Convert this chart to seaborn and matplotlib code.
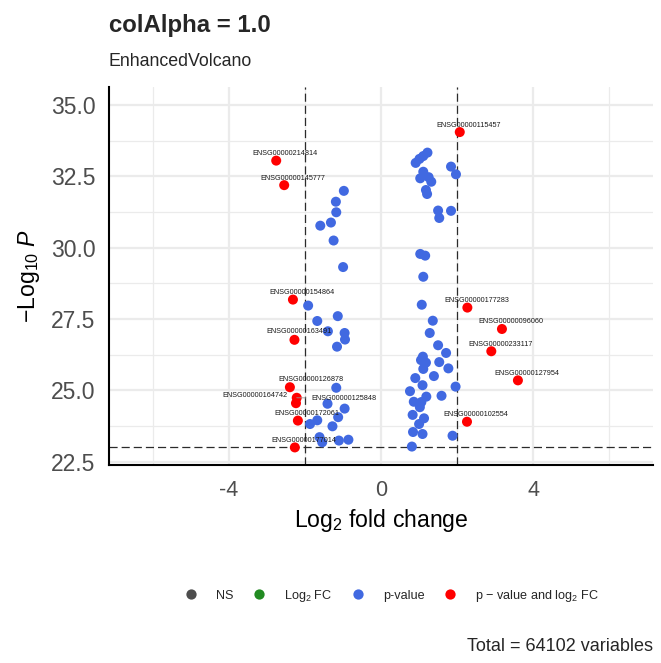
import numpy as np
import pandas as pd
import matplotlib
matplotlib.use("Agg")
import matplotlib.pyplot as plt
import seaborn as sns
from matplotlib.lines import Line2D
from matplotlib.ticker import FixedLocator

# ---------------- data ----------------
# significant by p-value and log2 FC (red, labelled)
red_fc = [-2.76, -2.55, 2.07, -2.32, -2.28, -2.40, -2.22, -2.24, -2.19, -2.27,
          2.27, 3.18, 2.90, 3.60, 2.26]
red_logp = [33.05, 32.19, 34.05, 28.18, 26.77, 25.11, 24.74, 24.55, 23.94, 23.00,
            27.90, 27.15, 26.37, 25.35, 23.90]
red_genes = ["ENSG00000214814", "ENSG00000145777", "ENSG00000115457",
             "ENSG00000154864", "ENSG00000163491", "ENSG00000126878",
             "ENSG00000125848", "ENSG00000164742", "ENSG00000172061",
             "ENSG00000177014", "ENSG00000177283", "ENSG00000096060",
             "ENSG00000233117", "ENSG00000127954", "ENSG00000102554"]

# significant by p-value only (blue)
blue_fc = [-0.98, -1.19, -1.18, -1.32, -1.60, -1.25, -1.00, -1.92, -1.68, -1.14,
           -1.40, -0.96, -0.95, -1.16, -1.18, -1.41, -0.96, -1.13, -1.68, -1.87,
           -1.28, -1.62, -1.55, -1.11, -0.86,
           1.22, 1.11, 1.01, 0.91, 1.84, 1.97, 1.11, 1.03, 1.25, 1.32,
           1.18, 1.21, 1.50, 1.53, 1.84, 1.03, 1.16, 1.11, 1.07, 1.36,
           1.28, 1.50, 1.71, 1.10, 1.05, 1.18, 1.53, 1.11, 1.77, 1.39,
           0.90, 1.09, 1.96, 0.76, 1.19, 1.59, 0.86, 1.06, 1.02, 0.83,
           1.13, 1.00, 0.84, 1.09, 1.88, 0.81]
blue_logp = [31.99, 31.61, 31.24, 30.88, 30.77, 30.25, 29.32, 27.97, 27.43, 27.60,
             27.07, 27.01, 26.78, 26.53, 25.09, 24.53, 24.36, 24.06, 23.95, 23.82,
             23.74, 23.36, 23.18, 23.24, 23.27,
             33.33, 33.21, 33.11, 32.97, 32.84, 32.57, 32.66, 32.43, 32.47, 32.31,
             32.02, 31.88, 31.30, 31.04, 31.29, 29.78, 29.72, 28.98, 28.00, 27.44,
             27.01, 26.58, 26.31, 26.18, 26.06, 25.97, 25.99, 25.75, 25.77, 25.50,
             25.43, 25.18, 25.13, 24.97, 24.78, 24.81, 24.60, 24.59, 24.41, 24.14,
             24.02, 23.82, 23.54, 23.47, 23.41, 23.03]

categories = ["NS", "Log2 FC", "p-value", "p-value and log2 FC"]
legend_labels = ["NS", r"Log$_{2}$ FC", "p-value", r"p $-$ value and log$_{2}$ FC"]
cat_colors = ["#4D4D4D", "#228B22", "#4169E1", "#FF0000"]

fc_cutoff = 2.0
p_cutoff_log = 23.0
total_vars = 64102

# ---------------- style ----------------
sns.set_style("white")
plt.rcParams["font.family"] = ["Liberation Sans", "DejaVu Sans"]
plt.rcParams["mathtext.fontset"] = "custom"
plt.rcParams["mathtext.rm"] = "Liberation Sans"
plt.rcParams["mathtext.it"] = "Liberation Sans:italic"
plt.rcParams["mathtext.bf"] = "Liberation Sans:bold"

df = pd.DataFrame({
    "log2FC": blue_fc + red_fc,
    "logP": blue_logp + red_logp,
    "category": ["p-value"] * len(blue_fc) + ["p-value and log2 FC"] * len(red_fc),
})
palette = dict(zip(categories, cat_colors))

dpi = 100
fig = plt.figure(figsize=(6.61, 6.63), dpi=dpi)
W, H = 661, 663
x0, x1 = -7.16, 7.16
y0, y1 = 22.384, 35.64
ax = fig.add_axes([109 / W, 1 - 465 / H, (653.2 - 109) / W, (465 - 86.7) / H])

# grid
ax.set_xlim(x0, x1)
ax.set_ylim(y0, y1)
ax.xaxis.set_major_locator(FixedLocator([-4, 0, 4]))
ax.xaxis.set_minor_locator(FixedLocator([-6, -2, 2, 6]))
ax.yaxis.set_major_locator(FixedLocator([22.5, 25.0, 27.5, 30.0, 32.5, 35.0]))
ax.yaxis.set_minor_locator(FixedLocator([23.75, 26.25, 28.75, 31.25, 33.75]))
ax.grid(which="major", color="#EBEBEB", linewidth=1.6, zorder=0)
ax.grid(which="minor", color="#EBEBEB", linewidth=0.9, zorder=0)
ax.set_axisbelow(True)

# cutoff lines
ls = (0, (6.5, 3.2))
for v in (-fc_cutoff, fc_cutoff):
    ax.axvline(v, color="#2b2b2b", linewidth=0.9, linestyle=ls, zorder=1)
ax.axhline(p_cutoff_log, color="#2b2b2b", linewidth=0.9, linestyle=ls, zorder=1)

sns.scatterplot(data=df, x="log2FC", y="logP", hue="category", palette=palette,
                s=52, linewidth=0, legend=False, ax=ax, zorder=3)

# labels (offsets in pixels from the point, label centre)
offsets = [(9, 7)] * len(red_genes)
offsets = list(offsets)
offsets[4] = (4.5, 8)
offsets[5] = (21, 7.3)
offsets[6] = (47, -0.6)
offsets[7] = (-41, 7.6)
for i, (gx, gy, g) in enumerate(zip(red_fc, red_logp, red_genes)):
    dx, dy = offsets[i]
    kw = {}
    if i == 6:
        kw["arrowprops"] = dict(arrowstyle="-", color="#999999", lw=0.6,
                                shrinkA=1.5, shrinkB=0)
    ax.annotate(g, xy=(gx, gy), xytext=(dx * 72 / dpi, dy * 72 / dpi),
                textcoords="offset points", ha="center", va="center",
                fontsize=5.2, color="#1a1a1a", zorder=5, **kw)

# spines / ticks
for s in ("top", "right"):
    ax.spines[s].set_visible(False)
for s in ("left", "bottom"):
    ax.spines[s].set_color("black")
    ax.spines[s].set_linewidth(1.5)
ax.tick_params(which="major", length=4.8, width=1.4, color="#333333",
               labelcolor="#4D4D4D")
ax.tick_params(axis="y", which="major", labelsize=16.5, pad=5)
ax.tick_params(axis="x", which="major", labelsize=15.5, pad=6)
ax.tick_params(which="minor", length=0)
ax.set_xticklabels(["-4", "0", "4"])
ax.set_yticklabels(["22.5", "25.0", "27.5", "30.0", "32.5", "35.0"])

ax.set_xlabel(r"Log$_{2}$ fold change", fontsize=16.6, color="black", labelpad=4)
ax.set_ylabel(r"$-\mathrm{Log}_{10}\ P$", fontsize=16.6, color="black", labelpad=6)

# titles
fig.text(109 / W, 1 - 32.3 / H, "colAlpha = 1.0", fontsize=17.3, fontweight="bold",
         ha="left", va="baseline")
fig.text(109 / W, 1 - 65.7 / H, "EnhancedVolcano", fontsize=12.8,
         ha="left", va="baseline")

# legend
handles = [Line2D([0], [0], marker="o", linestyle="", markersize=7.4,
                  markerfacecolor=c, markeredgewidth=0) for c in cat_colors]
fig.legend(handles, legend_labels, loc="center", ncol=4, frameon=False,
           bbox_to_anchor=(392 / W, 1 - 595.7 / H),
           fontsize=9.1, handlelength=1.0, handletextpad=1.5, columnspacing=1.5)

fig.text(653 / W, 1 - 651 / H, f"Total = {total_vars} variables", fontsize=13,
         ha="right", va="baseline")

fig.savefig("out.png", dpi=dpi)
